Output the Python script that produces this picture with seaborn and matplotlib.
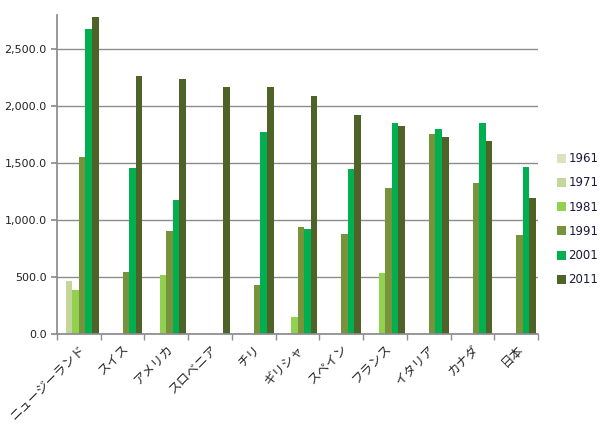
import numpy as np
import pandas as pd
import matplotlib
matplotlib.use("Agg")
import matplotlib.pyplot as plt
import seaborn as sns
from matplotlib.ticker import FuncFormatter, FixedLocator

countries = ["ニュージーランド", "スイス", "アメリカ", "スロベニア", "チリ", "ギリシャ",
             "スペイン", "フランス", "イタリア", "カナダ", "日本"]
years = ["1961", "1971", "1981", "1991", "2001", "2011"]
nan = np.nan
v1961 = [nan, nan, nan, nan, nan, nan, nan, nan, nan, nan, nan]
v1971 = [465, nan, nan, nan, nan, nan, nan, nan, nan, nan, nan]
v1981 = [386, nan, 517, nan, nan, 152, nan, 535, nan, nan, nan]
v1991 = [1555, 546, 906, nan, 430, 938, 877, 1280, 1754, 1324, 868]
v2001 = [2675, 1458, 1175, nan, 1772, 921, 1447, 1850, 1798, 1850, 1465]
v2011 = [2783, 2263, 2236, 2166, 2166, 2087, 1921, 1824, 1728, 1693, 1193]
colors = ["#D7E4BD", "#C3D69B", "#92D050", "#77933C", "#00B050", "#4F6228"]

series = [v1961, v1971, v1981, v1991, v2001, v2011]
df = pd.DataFrame([
    {"country": c, "year": y, "value": vals[i]}
    for y, vals in zip(years, series) for i, c in enumerate(countries)
])

sns.set_theme(style="white")
plt.rcParams["font.family"] = ["DejaVu Sans", "Noto Sans CJK JP"]

fig = plt.figure(figsize=(6, 4.3), dpi=100)
ax = fig.add_axes([0.095, 0.223, 0.802, 0.742])
sns.barplot(data=df, x="country", y="value", hue="year", order=countries,
            hue_order=years, palette=colors, width=0.9, saturation=1,
            errorbar=None, ax=ax, legend=True, linewidth=0)

ax.set_ylim(0, 2800)
ax.set_xlim(-0.5, len(countries) - 0.5)
ax.set_yticks(np.arange(0, 2501, 500))
ax.yaxis.set_major_formatter(FuncFormatter(lambda v, p: f"{v:,.1f}"))
ax.yaxis.grid(True, color="#8c8c8c", linewidth=1)
ax.set_axisbelow(True)
ax.tick_params(axis="y", which="major", length=4, color="#8c8c8c",
               labelsize=8, left=True, labelcolor="#222222")

ax.set_xticks(range(len(countries)))
ax.set_xticklabels(countries, rotation=45, ha="right", rotation_mode="anchor",
                   fontsize=9)
ax.tick_params(axis="x", which="major", length=0, pad=6)
ax.xaxis.set_minor_locator(FixedLocator(np.arange(-0.5, len(countries), 1.0)))
ax.tick_params(axis="x", which="minor", length=4, color="#8c8c8c", bottom=True)

for s in ["top", "right"]:
    ax.spines[s].set_visible(False)
for s in ["left", "bottom"]:
    ax.spines[s].set_color("#8c8c8c")
ax.set_xlabel("")
ax.set_ylabel("")

handles, labels = ax.get_legend_handles_labels()
ax.get_legend().remove()
fig.legend(handles, labels, loc="center left", bbox_to_anchor=(0.91, 0.49),
           frameon=False, fontsize=8.5, handlelength=0.8, handleheight=0.8,
           handletextpad=0.2, labelspacing=0.95, labelcolor="#1a1a3a")

fig.savefig("out.png", dpi=100)
